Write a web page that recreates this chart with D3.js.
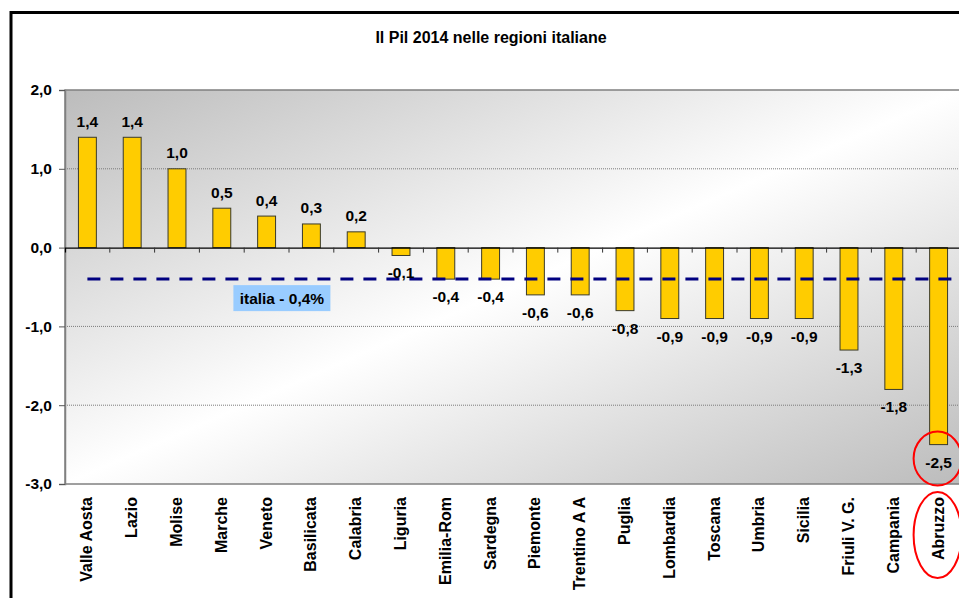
<!DOCTYPE html>
<html>
<head>
<meta charset="utf-8">
<script src="https://cdn.jsdelivr.net/npm/d3@7"></script>
<style>
  body { margin: 0; background: #fff; }
  text { font-family: "Liberation Sans", Arial, sans-serif; font-weight: bold; }
</style>
</head>
<body>
<div id="chart"></div>
<script>
//Dati
const regioni = ['Valle Aosta', 'Lazio', 'Molise', 'Marche', 'Veneto', 'Basilicata', 'Calabria', 'Liguria',
    'Emilia-Rom', 'Sardegna', 'Piemonte', 'Trentino A A', 'Puglia', 'Lombardia', 'Toscana', 'Umbria',
    'Sicilia', 'Friuli V. G.', 'Campania', 'Abruzzo'];
const valori = [1.4, 1.4, 1.0, 0.5, 0.4, 0.3, 0.2, -0.1, -0.4, -0.4, -0.6, -0.6, -0.8, -0.9, -0.9, -0.9, -0.9, -1.3, -1.8, -2.5];
const yTicks = [2, 1, 0, -1, -2, -3];
const mediaItalia = -0.4;
const etichettaItalia = 'italia - 0,4%';
const titolo = 'Il Pil 2014 nelle regioni italiane';
const evidenziata = 'Abruzzo';

const it = d3.formatLocale({decimal: ',', thousands: '.', grouping: [3], currency: ['€', ''], minus: '-'});
const fmt = it.format('.1f');

let margin = {top: 90, right: -2, bottom: 114, left: 65},
    W = 959, H = 598,
    width = W - margin.left - margin.right,
    height = H - margin.top - margin.bottom;

let svg = d3.select('#chart').append('svg')
    .attr('width', W)
    .attr('height', H);

//Cornice esterna
svg.append('rect')
    .attr('x', 11).attr('y', 12.5)
    .attr('width', 1000).attr('height', 700)
    .attr('fill', 'none').attr('stroke', '#000').attr('stroke-width', 3);

svg.append('text')
    .attr('x', 491).attr('y', 43)
    .attr('text-anchor', 'middle')
    .style('font-size', '16px')
    .text(titolo);

//Sfondo sfumato
let defs = svg.append('defs');
let grad = defs.append('linearGradient')
    .attr('id', 'sfondo')
    .attr('x1', 0).attr('y1', 0).attr('x2', 1).attr('y2', 1);
grad.append('stop').attr('offset', '0%').attr('stop-color', '#bcbcbc');
grad.append('stop').attr('offset', '50%').attr('stop-color', '#ffffff');
grad.append('stop').attr('offset', '100%').attr('stop-color', '#bcbcbc');

let g = svg.append('g')
    .attr('transform', 'translate(' + margin.left + ',' + margin.top + ')');

g.append('rect')
    .attr('width', width).attr('height', height)
    .attr('fill', 'url(#sfondo)')
    .attr('stroke', '#808080').attr('stroke-width', 1.5);

let x = d3.scaleBand()
    .domain(regioni)
    .range([0, width])
    .paddingInner(0.6)
    .paddingOuter(0.3);

let xb = d3.scaleBand()
    .domain(regioni)
    .range([0, width]);

let y = d3.scaleLinear()
    .domain([-3, 2])
    .range([height, 0]);

//Griglia
g.selectAll('.grid')
    .data(yTicks.filter(d => d !== 0 && d !== 2 && d !== -3))
    .enter().append('line')
    .attr('x1', 0).attr('x2', width)
    .attr('y1', d => y(d)).attr('y2', d => y(d))
    .attr('stroke', '#7a7a7a').attr('stroke-width', 1)
    .attr('stroke-dasharray', '1,1');

//Asse Y
let yAxis = g.append('g')
    .call(d3.axisLeft(y).tickValues(yTicks).tickFormat(fmt).tickSize(6).tickPadding(7));
yAxis.select('.domain').attr('stroke', '#808080').attr('stroke-width', 1.5);
yAxis.selectAll('.tick line').attr('stroke', '#555');
yAxis.selectAll('.tick text').style('font-size', '15.5px').attr('fill', '#000');

//Barre
g.selectAll('.bar')
    .data(valori)
    .enter().append('rect')
    .attr('x', (d, i) => x(regioni[i]))
    .attr('width', x.bandwidth())
    .attr('y', d => y(Math.max(0, d)))
    .attr('height', d => Math.abs(y(d) - y(0)))
    .attr('fill', '#ffcc00')
    .attr('stroke', '#3a3a2a').attr('stroke-width', 1);

//Asse zero
let x0Axis = g.append('g')
    .attr('transform', 'translate(0,' + y(0) + ')')
    .call(d3.axisBottom(xb).tickSize(5).tickFormat(''));
x0Axis.select('.domain').attr('stroke', '#000').attr('stroke-width', 1.2);
x0Axis.selectAll('.tick').attr('transform', d => 'translate(' + (xb(d) + xb.bandwidth()) + ',0)');
x0Axis.selectAll('.tick line').attr('stroke', '#333');

//Media Italia
g.append('line')
    .attr('x1', xb(regioni[0]) + xb.bandwidth() / 2)
    .attr('x2', width + 10)
    .attr('y1', y(mediaItalia)).attr('y2', y(mediaItalia))
    .attr('stroke', '#000080').attr('stroke-width', 3)
    .attr('stroke-dasharray', '13,10');

let boxX = xb(regioni[3]) + 34;
g.append('rect')
    .attr('x', boxX)
    .attr('y', y(mediaItalia) + 6)
    .attr('width', 97).attr('height', 26)
    .attr('fill', '#99ccff');
g.append('text')
    .attr('x', boxX + 48.5)
    .attr('y', y(mediaItalia) + 25)
    .attr('text-anchor', 'middle')
    .style('font-size', '15.5px')
    .text(etichettaItalia);

//Etichette valori
g.selectAll('.val')
    .data(valori)
    .enter().append('text')
    .attr('x', (d, i) => xb(regioni[i]) + xb.bandwidth() / 2)
    .attr('y', d => d >= 0 ? y(d) - 10.5 : y(d) + 23)
    .attr('text-anchor', 'middle')
    .style('font-size', '15.5px')
    .text(d => fmt(d));

//Etichette regioni
g.selectAll('.cat')
    .data(regioni)
    .enter().append('text')
    .attr('transform', d => 'translate(' + (xb(d) + xb.bandwidth() / 2 + 5) + ',' + (height + 13) + ') rotate(-90)')
    .attr('text-anchor', 'end')
    .style('font-size', '16px')
    .text(d => d);

//Evidenziazione
let iE = regioni.indexOf(evidenziata);
let cxE = xb(evidenziata) + xb.bandwidth() / 2;
g.append('ellipse')
    .attr('cx', cxE - 1).attr('cy', y(valori[iE]) + 14)
    .attr('rx', 24).attr('ry', 27)
    .attr('fill', 'none').attr('stroke', '#ff0000').attr('stroke-width', 2);
g.append('ellipse')
    .attr('cx', cxE - 1).attr('cy', height + 51)
    .attr('rx', 24).attr('ry', 43)
    .attr('fill', 'none').attr('stroke', '#ff0000').attr('stroke-width', 2);
</script>
</body>
</html>
